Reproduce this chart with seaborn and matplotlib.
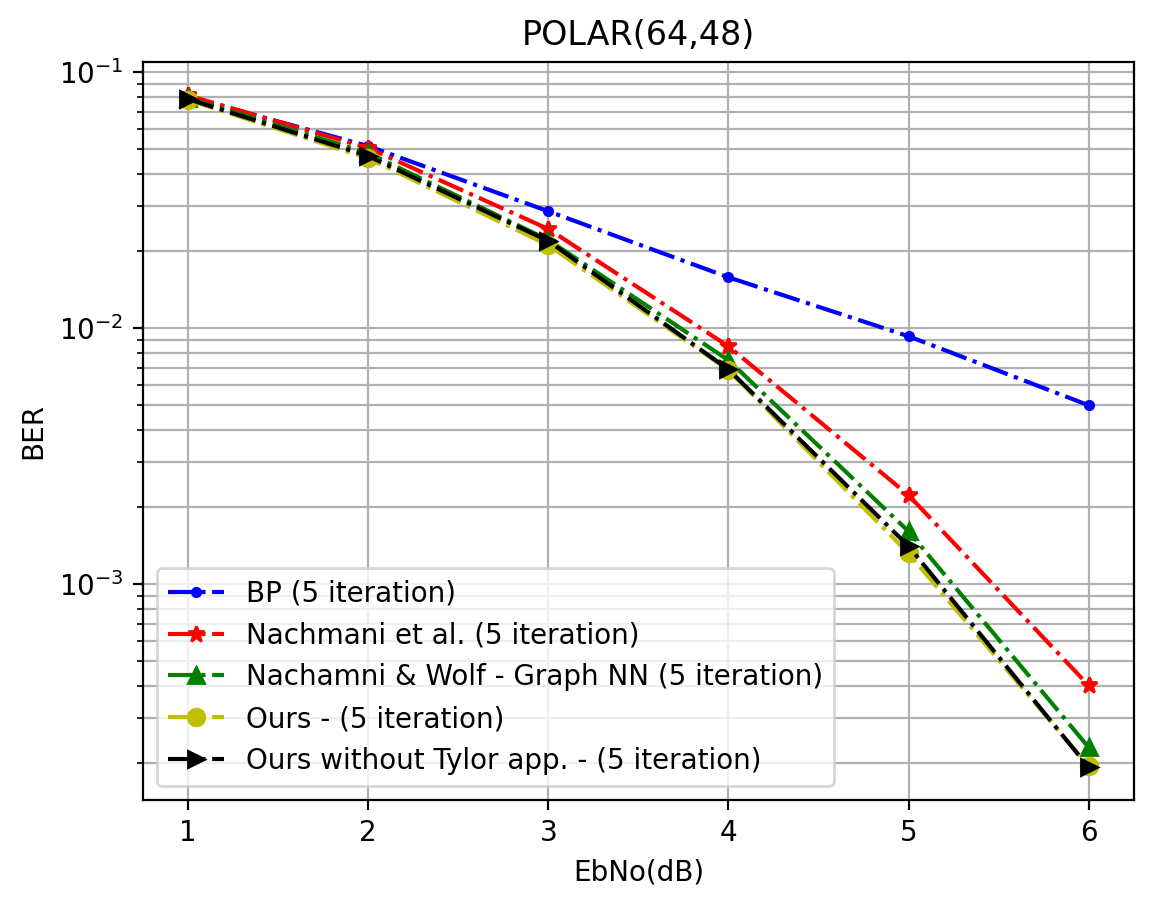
import numpy as np
import pandas as pd
import matplotlib
matplotlib.use("Agg")
import matplotlib.pyplot as plt
import seaborn as sns

ebno = [1, 2, 3, 4, 5, 6]

ber_bp = [0.080, 0.0514, 0.0286, 0.0158, 0.0093, 0.0050]
ber_nachmani = [0.081, 0.0505, 0.0244, 0.0085, 0.00223, 0.000403]
ber_graph_nn = [0.079, 0.0483, 0.0221, 0.0075, 0.00161, 0.000231]
ber_ours = [0.0778, 0.0461, 0.0211, 0.00686, 0.00132, 0.000195]
ber_ours_no_tylor = [0.0784, 0.0470, 0.0219, 0.0069, 0.00141, 0.000193]

labels = [
    "BP (5 iteration)",
    "Nachmani et al. (5 iteration)",
    "Nachamni & Wolf - Graph NN (5 iteration)",
    "Ours - (5 iteration)",
    "Ours without Tylor app. - (5 iteration)",
]
series = [ber_bp, ber_nachmani, ber_graph_nn, ber_ours, ber_ours_no_tylor]
colors = ["b", "r", "g", "y", "k"]
markers = [".", "*", "^", "o", ">"]

fig = plt.figure(figsize=(5.79, 4.54), dpi=200)
ax = fig.add_axes([0.1235, 0.119, 0.8555, 0.8127])

for vals, lab, c, m in zip(series, labels, colors, markers):
    df = pd.DataFrame({"EbNo": ebno, "BER": vals})
    sns.lineplot(data=df, x="EbNo", y="BER", ax=ax, color=c, linestyle="-.",
                 marker=m, markersize=6, markeredgecolor=c, markeredgewidth=1,
                 label=lab)

ax.set_yscale("log")
ax.set_ylim(1.44e-4, 0.1094)
ax.set_xlim(0.75, 6.25)
ax.grid(True, which="major", color="#b0b0b0")
ax.grid(True, which="minor", axis="y", color="#b0b0b0")
ax.set_xlabel("EbNo(dB)")
ax.set_ylabel("BER")
ax.set_title("POLAR(64,48)")
ax.legend(loc="lower left")

fig.savefig("out.png", dpi=200)
